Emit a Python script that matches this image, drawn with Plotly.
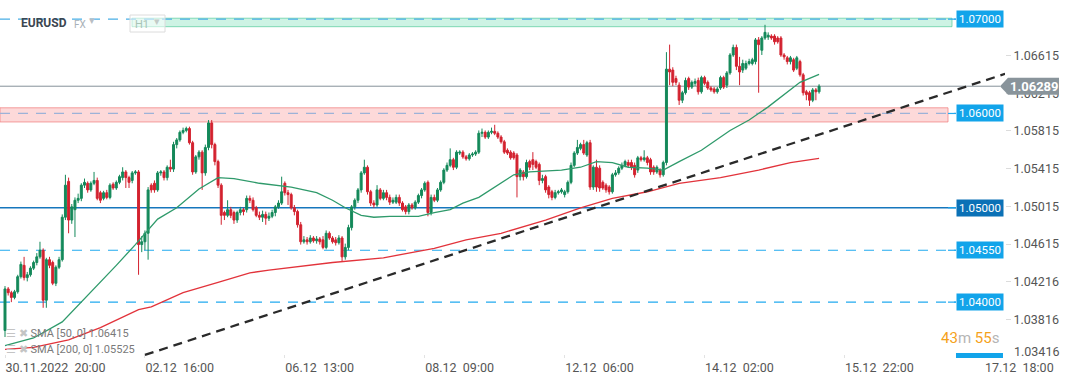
import plotly.graph_objects as go

# ---------------- data (EURUSD, H1) ----------------
opens = [
    1.0370, 1.0414, 1.0410, 1.0405, 1.0411, 1.0427, 1.0439, 1.0426, 1.0429, 1.0436,
    1.0442, 1.0448, 1.0455, 1.0402, 1.0445, 1.0442, 1.0420, 1.0437, 1.0445, 1.0490,
    1.0528, 1.0487, 1.0498, 1.0508, 1.0510, 1.0524, 1.0526, 1.0519, 1.0526, 1.0529,
    1.0516, 1.0510, 1.0516, 1.0511, 1.0525, 1.0521, 1.0527, 1.0532, 1.0538, 1.0532,
    1.0529, 1.0537, 1.0538, 1.0461, 1.0464, 1.0473, 1.0524, 1.0526, 1.0519, 1.0537,
    1.0538, 1.0532, 1.0543, 1.0541, 1.0567, 1.0572, 1.0580, 1.0582, 1.0584, 1.0569,
    1.0538, 1.0554, 1.0559, 1.0537, 1.0564, 1.0590, 1.0567, 1.0549, 1.0524, 1.0495,
    1.0492, 1.0498, 1.0495, 1.0487, 1.0495, 1.0498, 1.0498, 1.0510, 1.0508, 1.0500,
    1.0492, 1.0490, 1.0493, 1.0489, 1.0491, 1.0495, 1.0501, 1.0505, 1.0526, 1.0516,
    1.0514, 1.0500, 1.0496, 1.0482, 1.0464, 1.0466, 1.0464, 1.0468, 1.0465, 1.0467,
    1.0466, 1.0458, 1.0473, 1.0468, 1.0466, 1.0463, 1.0468, 1.0448, 1.0458, 1.0479,
    1.0501, 1.0508, 1.0519, 1.0537, 1.0543, 1.0517, 1.0505, 1.0503, 1.0519, 1.0510,
    1.0516, 1.0511, 1.0506, 1.0506, 1.0511, 1.0505, 1.0501, 1.0496, 1.0503, 1.0500,
    1.0506, 1.0513, 1.0519, 1.0527, 1.0495, 1.0511, 1.0508, 1.0519, 1.0527, 1.0540,
    1.0545, 1.0551, 1.0543, 1.0558, 1.0559, 1.0554, 1.0552, 1.0556, 1.0557, 1.0559,
    1.0579, 1.0580, 1.0575, 1.0580, 1.0581, 1.0579, 1.0575, 1.0570, 1.0561, 1.0559,
    1.0558, 1.0556, 1.0533, 1.0538, 1.0533, 1.0549, 1.0551, 1.0549, 1.0546, 1.0529,
    1.0533, 1.0522, 1.0517, 1.0511, 1.0516, 1.0517, 1.0514, 1.0517, 1.0527, 1.0545,
    1.0558, 1.0563, 1.0567, 1.0556, 1.0569, 1.0522, 1.0543, 1.0542, 1.0527, 1.0524,
    1.0522, 1.0517, 1.0535, 1.0537, 1.0542, 1.0545, 1.0548, 1.0548, 1.0545, 1.0540,
    1.0553, 1.0551, 1.0553, 1.0551, 1.0543, 1.0538, 1.0540, 1.0535, 1.0548, 1.0647,
    1.0646, 1.0637, 1.0630, 1.0614, 1.0622, 1.0637, 1.0628, 1.0632, 1.0635, 1.0623,
    1.0638, 1.0633, 1.0627, 1.0626, 1.0623, 1.0627, 1.0638, 1.0630, 1.0643, 1.0662,
    1.0670, 1.0650, 1.0646, 1.0648, 1.0653, 1.0653, 1.0655, 1.0678, 1.0667, 1.0680,
    1.0681, 1.0682, 1.0682, 1.0680, 1.0680, 1.0662, 1.0659, 1.0655, 1.0657, 1.0648,
    1.0655, 1.0641, 1.0623, 1.0622, 1.0614, 1.0625, 1.0623,
]
closes = [
    1.0414, 1.0410, 1.0405, 1.0411, 1.0427, 1.0440, 1.0426, 1.0429, 1.0436, 1.0442,
    1.0448, 1.0455, 1.0402, 1.0445, 1.0439, 1.0420, 1.0437, 1.0445, 1.0490, 1.0524,
    1.0487, 1.0501, 1.0508, 1.0510, 1.0524, 1.0527, 1.0519, 1.0526, 1.0529, 1.0510,
    1.0508, 1.0516, 1.0511, 1.0524, 1.0521, 1.0527, 1.0533, 1.0538, 1.0532, 1.0527,
    1.0537, 1.0538, 1.0461, 1.0464, 1.0473, 1.0519, 1.0519, 1.0519, 1.0537, 1.0538,
    1.0532, 1.0543, 1.0541, 1.0567, 1.0572, 1.0580, 1.0582, 1.0584, 1.0569, 1.0538,
    1.0554, 1.0559, 1.0537, 1.0564, 1.0590, 1.0567, 1.0549, 1.0524, 1.0492, 1.0492,
    1.0498, 1.0492, 1.0487, 1.0495, 1.0498, 1.0496, 1.0510, 1.0508, 1.0498, 1.0492,
    1.0490, 1.0493, 1.0489, 1.0491, 1.0495, 1.0501, 1.0505, 1.0517, 1.0516, 1.0514,
    1.0500, 1.0496, 1.0482, 1.0464, 1.0466, 1.0464, 1.0468, 1.0465, 1.0467, 1.0464,
    1.0458, 1.0473, 1.0468, 1.0464, 1.0463, 1.0468, 1.0448, 1.0458, 1.0479, 1.0501,
    1.0508, 1.0519, 1.0537, 1.0543, 1.0517, 1.0505, 1.0503, 1.0519, 1.0510, 1.0516,
    1.0511, 1.0506, 1.0508, 1.0511, 1.0505, 1.0498, 1.0496, 1.0503, 1.0500, 1.0506,
    1.0513, 1.0519, 1.0526, 1.0495, 1.0511, 1.0508, 1.0519, 1.0527, 1.0540, 1.0545,
    1.0551, 1.0543, 1.0559, 1.0559, 1.0554, 1.0552, 1.0556, 1.0557, 1.0559, 1.0579,
    1.0580, 1.0575, 1.0580, 1.0581, 1.0579, 1.0575, 1.0570, 1.0559, 1.0558, 1.0553,
    1.0553, 1.0533, 1.0540, 1.0533, 1.0548, 1.0543, 1.0546, 1.0543, 1.0529, 1.0531,
    1.0519, 1.0514, 1.0511, 1.0516, 1.0517, 1.0519, 1.0517, 1.0527, 1.0545, 1.0558,
    1.0564, 1.0567, 1.0558, 1.0569, 1.0522, 1.0543, 1.0522, 1.0521, 1.0521, 1.0519,
    1.0517, 1.0535, 1.0537, 1.0542, 1.0545, 1.0549, 1.0545, 1.0543, 1.0535, 1.0553,
    1.0551, 1.0553, 1.0548, 1.0538, 1.0538, 1.0543, 1.0535, 1.0548, 1.0647, 1.0644,
    1.0633, 1.0633, 1.0614, 1.0622, 1.0635, 1.0628, 1.0633, 1.0634, 1.0623, 1.0638,
    1.0632, 1.0627, 1.0625, 1.0623, 1.0626, 1.0638, 1.0628, 1.0643, 1.0662, 1.0670,
    1.0650, 1.0644, 1.0653, 1.0653, 1.0655, 1.0657, 1.0678, 1.0673, 1.0680, 1.0686,
    1.0683, 1.0680, 1.0676, 1.0676, 1.0662, 1.0660, 1.0655, 1.0659, 1.0646, 1.0659,
    1.0641, 1.0622, 1.0620, 1.0614, 1.0625, 1.0623, 1.06289,
]
highs = [
    1.0417, 1.0416, 1.0412, 1.0413, 1.0429, 1.0443, 1.0448, 1.0432, 1.0438, 1.0444,
    1.0452, 1.0464, 1.0457, 1.0447, 1.0448, 1.0444, 1.0439, 1.0448, 1.0493, 1.0535,
    1.0532, 1.0504, 1.0511, 1.0515, 1.0526, 1.0531, 1.0528, 1.0528, 1.0538, 1.0532,
    1.0518, 1.0518, 1.0519, 1.0526, 1.0527, 1.0529, 1.0535, 1.0543, 1.0540, 1.0534,
    1.0539, 1.0540, 1.0540, 1.0470, 1.0476, 1.0522, 1.0526, 1.0529, 1.0539, 1.0540,
    1.0540, 1.0545, 1.0551, 1.0570, 1.0574, 1.0582, 1.0585, 1.0586, 1.0586, 1.0571,
    1.0556, 1.0561, 1.0561, 1.0567, 1.0593, 1.0593, 1.0569, 1.0551, 1.0526, 1.0497,
    1.0508, 1.0501, 1.0497, 1.0497, 1.0501, 1.0500, 1.0513, 1.0513, 1.0511, 1.0502,
    1.0496, 1.0497, 1.0496, 1.0495, 1.0498, 1.0503, 1.0508, 1.0533, 1.0528, 1.0519,
    1.0516, 1.0503, 1.0498, 1.0485, 1.0470, 1.0469, 1.0471, 1.0470, 1.0470, 1.0469,
    1.0470, 1.0476, 1.0475, 1.0470, 1.0469, 1.0471, 1.0470, 1.0462, 1.0482, 1.0503,
    1.0510, 1.0521, 1.0539, 1.0551, 1.0545, 1.0519, 1.0508, 1.0524, 1.0521, 1.0519,
    1.0519, 1.0514, 1.0511, 1.0514, 1.0514, 1.0507, 1.0503, 1.0505, 1.0505, 1.0508,
    1.0515, 1.0521, 1.0528, 1.0529, 1.0514, 1.0514, 1.0521, 1.0529, 1.0542, 1.0548,
    1.0563, 1.0553, 1.0561, 1.0561, 1.0561, 1.0556, 1.0558, 1.0559, 1.0561, 1.0582,
    1.0584, 1.0582, 1.0582, 1.0585, 1.0588, 1.0581, 1.0577, 1.0572, 1.0563, 1.0561,
    1.0560, 1.0558, 1.0542, 1.0540, 1.0551, 1.0551, 1.0559, 1.0551, 1.0548, 1.0535,
    1.0535, 1.0524, 1.0519, 1.0519, 1.0519, 1.0521, 1.0519, 1.0529, 1.0548, 1.0560,
    1.0572, 1.0569, 1.0572, 1.0571, 1.0572, 1.0545, 1.0551, 1.0545, 1.0529, 1.0526,
    1.0524, 1.0537, 1.0540, 1.0544, 1.0548, 1.0551, 1.0551, 1.0551, 1.0548, 1.0555,
    1.0555, 1.0561, 1.0555, 1.0553, 1.0545, 1.0545, 1.0542, 1.0550, 1.0665, 1.0673,
    1.0649, 1.0640, 1.0633, 1.0624, 1.0638, 1.0639, 1.0635, 1.0637, 1.0638, 1.0640,
    1.0640, 1.0635, 1.0629, 1.0628, 1.0628, 1.0640, 1.0640, 1.0645, 1.0664, 1.0673,
    1.0673, 1.0660, 1.0657, 1.0656, 1.0658, 1.0659, 1.0680, 1.0681, 1.0682, 1.0694,
    1.0686, 1.0684, 1.0684, 1.0682, 1.0682, 1.0664, 1.0661, 1.0661, 1.0659, 1.0661,
    1.0657, 1.0643, 1.0625, 1.0624, 1.0627, 1.0627, 1.0631,
]
lows = [
    1.0363, 1.0407, 1.0400, 1.0403, 1.0409, 1.0425, 1.0423, 1.0422, 1.0427, 1.0434,
    1.0439, 1.0446, 1.0394, 1.0394, 1.0436, 1.0418, 1.0417, 1.0435, 1.0443, 1.0487,
    1.0473, 1.0483, 1.0469, 1.0505, 1.0507, 1.0521, 1.0516, 1.0517, 1.0524, 1.0508,
    1.0505, 1.0508, 1.0509, 1.0509, 1.0519, 1.0519, 1.0525, 1.0529, 1.0521, 1.0521,
    1.0526, 1.0535, 1.0429, 1.0453, 1.0455, 1.0445, 1.0516, 1.0516, 1.0517, 1.0534,
    1.0529, 1.0529, 1.0538, 1.0538, 1.0563, 1.0570, 1.0578, 1.0580, 1.0567, 1.0535,
    1.0536, 1.0551, 1.0519, 1.0534, 1.0561, 1.0563, 1.0545, 1.0521, 1.0482, 1.0487,
    1.0490, 1.0489, 1.0483, 1.0484, 1.0492, 1.0492, 1.0495, 1.0505, 1.0496, 1.0490,
    1.0487, 1.0485, 1.0482, 1.0486, 1.0489, 1.0491, 1.0499, 1.0503, 1.0513, 1.0503,
    1.0498, 1.0492, 1.0479, 1.0461, 1.0462, 1.0461, 1.0462, 1.0463, 1.0462, 1.0461,
    1.0456, 1.0456, 1.0466, 1.0462, 1.0460, 1.0461, 1.0443, 1.0445, 1.0455, 1.0476,
    1.0498, 1.0505, 1.0516, 1.0535, 1.0514, 1.0502, 1.0500, 1.0501, 1.0508, 1.0508,
    1.0508, 1.0503, 1.0504, 1.0504, 1.0502, 1.0496, 1.0493, 1.0493, 1.0498, 1.0498,
    1.0504, 1.0510, 1.0517, 1.0491, 1.0492, 1.0506, 1.0506, 1.0517, 1.0525, 1.0538,
    1.0543, 1.0540, 1.0541, 1.0556, 1.0552, 1.0550, 1.0550, 1.0554, 1.0555, 1.0557,
    1.0575, 1.0573, 1.0573, 1.0578, 1.0577, 1.0573, 1.0568, 1.0557, 1.0556, 1.0551,
    1.0551, 1.0511, 1.0529, 1.0529, 1.0531, 1.0540, 1.0540, 1.0541, 1.0524, 1.0526,
    1.0516, 1.0510, 1.0508, 1.0509, 1.0514, 1.0515, 1.0511, 1.0515, 1.0525, 1.0543,
    1.0556, 1.0561, 1.0556, 1.0554, 1.0519, 1.0519, 1.0517, 1.0517, 1.0519, 1.0516,
    1.0514, 1.0515, 1.0533, 1.0535, 1.0540, 1.0543, 1.0543, 1.0540, 1.0532, 1.0537,
    1.0549, 1.0549, 1.0545, 1.0535, 1.0535, 1.0536, 1.0532, 1.0533, 1.0545, 1.0630,
    1.0629, 1.0630, 1.0609, 1.0611, 1.0620, 1.0625, 1.0626, 1.0629, 1.0620, 1.0621,
    1.0630, 1.0625, 1.0623, 1.0621, 1.0621, 1.0625, 1.0626, 1.0627, 1.0641, 1.0660,
    1.0646, 1.0630, 1.0643, 1.0646, 1.0651, 1.0651, 1.0652, 1.0622, 1.0662, 1.0678,
    1.0678, 1.0678, 1.0673, 1.0674, 1.0660, 1.0657, 1.0652, 1.0652, 1.0644, 1.0646,
    1.0639, 1.0619, 1.0614, 1.0608, 1.0612, 1.0614, 1.0621,
]
bar_index = list(range(len(closes)))

time_tick_index = [0, 44, 88, 132, 176, 220, 264, 308]
time_tick_text = ["30.11.2022  20:00", "02.12  16:00", "06.12  13:00", "08.12  09:00",
                  "12.12  06:00", "14.12  02:00", "15.12  22:00", "17.12  18:00"]

price_tick_values = [1.03816, 1.04216, 1.04615, 1.05015, 1.05415, 1.05815, 1.06215, 1.06615]
price_tick_text = ["1.03816", "1.04216", "1.04615", "1.05015", "1.05415", "1.05815", "1.06215", "1.06615"]
bottom_tick_text = "1.03416"

sma50_index = [0, 9, 18, 24, 30, 35, 41, 48, 54, 61, 67, 72, 80, 90, 98, 103, 107, 112, 116, 121,
               130, 135, 140, 144, 149, 156, 160, 165, 170, 175, 181, 186, 191, 196, 202, 207, 212,
               219, 228, 234, 240, 245, 250, 256]
sma50_values = [1.0354, 1.0362, 1.0379, 1.0400, 1.0422, 1.0439, 1.0461, 1.0488, 1.0500, 1.0520,
                1.0532, 1.0531, 1.0526, 1.0522, 1.0516, 1.0508, 1.0500, 1.0492, 1.0490, 1.0491,
                1.0491, 1.0495, 1.0498, 1.0505, 1.0511, 1.0526, 1.0535, 1.0538, 1.0539, 1.0540,
                1.0543, 1.0549, 1.0548, 1.0543, 1.0542, 1.0540, 1.0549, 1.0561, 1.0582, 1.0593,
                1.0607, 1.0620, 1.0633, 1.06415]
sma200_index = [0, 9, 20, 30, 35, 42, 46, 56, 67, 77, 83, 103, 119, 135, 145, 156, 170, 181, 191,
                202, 212, 225, 237, 247, 256]
sma200_values = [1.0350, 1.0352, 1.0360, 1.0373, 1.0381, 1.0392, 1.0395, 1.0410, 1.0421, 1.0431,
                 1.0434, 1.0442, 1.0447, 1.0457, 1.0466, 1.0473, 1.0487, 1.0500, 1.0510, 1.0517,
                 1.0526, 1.0532, 1.0540, 1.0548, 1.05525]
sma50_label = "SMA [50, 0] 1.06415"
sma200_label = "SMA [200, 0] 1.05525"

trend_index = [44, 314.5]
trend_values = [1.0344, 1.0642]

level_values = [1.07, 1.06, 1.05, 1.0455, 1.04]
level_text = ["1.07000", "1.06000", "1.05000", "1.04550", "1.04000"]
hidden_level_value = 1.034
green_zone = [1.0692, 1.0701]
red_zone = [1.0591, 1.0606]
last_price = 1.06289
last_price_text = "1.06289"

# ---------------- layout geometry ----------------
W, H = 1072, 382
ML, MR, MT, MB = 0, 67, 0, 24
PW, PH = W - ML - MR, H - MT - MB


def px(v):
    return v / PW


def py(v):
    return 1 - v / PH


X_RANGE = [-1.572, 314.47]
Y_RANGE = [1.034077, 1.072029]

GREEN = "#14895a"
RED = "#d3222f"
FONT = "Roboto"

fig = go.Figure()

fig.add_trace(go.Candlestick(
    x=bar_index, open=opens, high=highs, low=lows, close=closes,
    increasing=dict(line=dict(color=GREEN, width=1), fillcolor=GREEN),
    decreasing=dict(line=dict(color=RED, width=1), fillcolor=RED),
    whiskerwidth=0, hoverinfo="skip", showlegend=False,
))
fig.add_trace(go.Scatter(x=sma50_index, y=sma50_values, mode="lines",
                         line=dict(color="#2f9a6b", width=1.3), hoverinfo="skip", showlegend=False))
fig.add_trace(go.Scatter(x=sma200_index, y=sma200_values, mode="lines",
                         line=dict(color="#e2333b", width=1.3), hoverinfo="skip", showlegend=False))

shapes = []
# zones
shapes.append(dict(type="rect", xref="paper", yref="y", x0=px(132), x1=px(952),
                   y0=green_zone[0], y1=green_zone[1], fillcolor="rgba(90,215,165,0.3)",
                   line=dict(color="rgba(60,195,140,0.6)", width=1), layer="below"))
shapes.append(dict(type="rect", xref="paper", yref="y", x0=px(0), x1=px(948),
                   y0=red_zone[0], y1=red_zone[1], fillcolor="rgba(248,130,130,0.3)",
                   line=dict(color="rgba(240,130,130,0.75)", width=1), layer="below"))
level_line_styles = [
    dict(color="#4aafe6", width=1.2, dash="10px,8px"),
    dict(color="#9db2d8", width=1.2, dash="10px,8px"),
    dict(color="#1677bd", width=1.4, dash="solid"),
    dict(color="#22aaf0", width=1.2, dash="10px,8px"),
    dict(color="#22aaf0", width=1.2, dash="10px,8px"),
]
for v, st in zip(level_values, level_line_styles):
    shapes.append(dict(type="line", xref="paper", yref="y", x0=0, x1=px(956), y0=v, y1=v,
                       line=st, layer="below"))
# connector ticks to label boxes
for v in level_values:
    shapes.append(dict(type="line", xref="paper", yref="y", x0=px(948), x1=px(956), y0=v, y1=v,
                       line=dict(color="#22aaf0", width=1.2), layer="below"))
# last price line
shapes.append(dict(type="line", xref="paper", yref="y", x0=0, x1=px(1000), y0=last_price, y1=last_price,
                   line=dict(color="#85919a", width=1), layer="below"))
# trend line
shapes.append(dict(type="line", xref="x", yref="y", x0=trend_index[0], x1=trend_index[1],
                   y0=trend_values[0], y1=trend_values[1],
                   line=dict(color="#2a2a2a", width=2.3, dash="9px,6px"), layer="above"))
# partially hidden level box at bottom
shapes.append(dict(type="rect", xref="x", yref="y", x0=(956 - 5) / 3.18, x1=(1003 - 5) / 3.18,
                   y0=hidden_level_value - 0.0009, y1=hidden_level_value + 0.0006,
                   fillcolor="#12a4ea", line=dict(width=0), layer="above"))
# last price tag (arrow + box)
dy = 0.0009
shapes.append(dict(type="path", xref="paper", yref="y",
                   path=(f"M {px(1000)},{last_price} L {px(1008)},{last_price + dy} "
                         f"L {px(1059)},{last_price + dy} L {px(1059)},{last_price - dy} "
                         f"L {px(1008)},{last_price - dy} Z"),
                   fillcolor="#89949b", line=dict(width=0), layer="above"))
# H1 box
shapes.append(dict(type="rect", xref="paper", yref="paper", x0=px(130), x1=px(165),
                   y0=py(32), y1=py(15), fillcolor="rgba(255,255,255,0.55)",
                   line=dict(color="#dcdcdc", width=1), layer="above"))

annotations = []
box_colors = ["#12a4ea", "#12a4ea", "#0b71b6", "#12a4ea", "#12a4ea"]
for v, t, c in zip(level_values, level_text, box_colors):
    annotations.append(dict(xref="paper", yref="y", x=px(956), y=v, xanchor="left", yanchor="middle",
                            text=t, showarrow=False, bgcolor=c, borderpad=1, width=44,
                            font=dict(family=FONT, size=11.5, color="white")))
annotations.append(dict(xref="paper", yref="y", x=px(1034), y=last_price, xanchor="center",
                        yanchor="middle", text=f"<b>{last_price_text}</b>", showarrow=False,
                        font=dict(family=FONT, size=13, color="white")))
annotations.append(dict(xref="paper", yref="paper", x=px(1012), y=py(351), xanchor="left",
                        yanchor="middle", text=bottom_tick_text, showarrow=False,
                        font=dict(family=FONT, size=12.5, color="#555")))
annotations.append(dict(xref="paper", yref="paper", x=px(1001), y=py(338), xanchor="right",
                        yanchor="middle", showarrow=False,
                        text=("<span style='color:#f5a21b'>43</span><span style='color:#b5b5b5'>m</span> "
                              "<span style='color:#f5a21b'>55</span><span style='color:#b5b5b5'>s</span>"),
                        font=dict(family=FONT, size=15)))
annotations.append(dict(xref="paper", yref="paper", x=px(19), y=py(23), xanchor="left",
                        yanchor="middle", text="<b>EURUSD</b>", showarrow=False,
                        font=dict(family=FONT, size=12, color="#3d4650")))
annotations.append(dict(xref="paper", yref="paper", x=px(72), y=py(24), xanchor="left",
                        yanchor="middle", text="FX", showarrow=False,
                        font=dict(family=FONT, size=10, color="#a9b1b8")))
annotations.append(dict(xref="paper", yref="paper", x=px(87), y=py(21), xanchor="left",
                        yanchor="middle", text="▾", showarrow=False,
                        font=dict(family=FONT, size=11, color="#b8bec4")))
annotations.append(dict(xref="paper", yref="paper", x=px(133), y=py(24), xanchor="left",
                        yanchor="middle", text="H1", showarrow=False,
                        font=dict(family=FONT, size=11, color="#a8c4b6")))
annotations.append(dict(xref="paper", yref="paper", x=px(152), y=py(22), xanchor="left",
                        yanchor="middle", text="▾", showarrow=False,
                        font=dict(family=FONT, size=11, color="#c3cbc7")))
for lbl, ypix in [(sma50_label, 333), (sma200_label, 349)]:
    annotations.append(dict(xref="paper", yref="paper", x=px(4), y=py(ypix), xanchor="left",
                            yanchor="middle", showarrow=False,
                            text=f"<span style='color:#c4c4c4'>☰ ✖</span> {lbl}",
                            font=dict(family=FONT, size=11, color="#7a7a7a")))

fig.update_layout(
    width=W, height=H,
    margin=dict(l=ML, r=MR, t=MT, b=MB, pad=0),
    paper_bgcolor="white", plot_bgcolor="white",
    showlegend=False, hovermode=False,
    boxgap=0.12,
    shapes=shapes, annotations=annotations,
    font=dict(family=FONT, color="#555"),
    xaxis=dict(range=X_RANGE, showgrid=False, zeroline=False, showline=False,
               rangeslider=dict(visible=False),
               tickmode="array", tickvals=time_tick_index,
               ticktext=[t.replace("  ", "\u00a0\u00a0") for t in time_tick_text],
               ticks="inside", ticklen=3, tickcolor="#e2e2e2",
               ticklabelposition="outside right",
               tickfont=dict(family=FONT, size=12.5, color="#555")),
    yaxis=dict(range=Y_RANGE, side="right", showgrid=False, zeroline=False, showline=False,
               tickmode="array", tickvals=price_tick_values, ticktext=price_tick_text,
               ticks="outside", ticklen=5, tickcolor="#dcdcdc",
               tickfont=dict(family=FONT, size=12.5, color="#555")),
)

fig.write_html("out.html", config={"displayModeBar": False},
               post_script="document.body.style.margin='0px';document.body.style.overflow='hidden';")
